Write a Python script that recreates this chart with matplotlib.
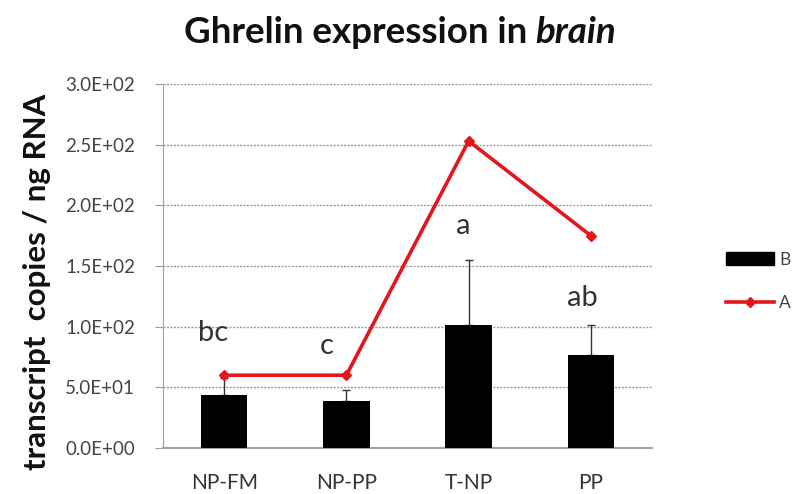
import matplotlib
matplotlib.use("Agg")
import matplotlib.pyplot as plt
from matplotlib.lines import Line2D
from matplotlib.patches import Patch
from matplotlib.ticker import FuncFormatter, MultipleLocator
import numpy as np

categories = ["NP-FM", "NP-PP", "T-NP", "PP"]
series_b = [44, 39, 101, 77]          # bars
series_b_err = [14, 9, 54, 24]        # upper error
series_a = [60, 60, 253, 175]         # red line
letters = ["bc", "c", "a", "ab"]
letter_y = [95, 84, 183, 124]
letter_dx = [-0.09, -0.16, -0.04, -0.07]

plt.rcParams["font.family"] = ["Lato", "DejaVu Sans"]

fig = plt.figure(figsize=(7.98, 4.94), dpi=100)
ax = fig.add_axes([0.2043, 0.0931, 0.6127, 0.7369])

x = np.arange(len(categories))
ax.bar(x, series_b, width=0.38, color="black", zorder=3)
ax.errorbar(x, series_b, yerr=[np.zeros(len(x)), series_b_err], fmt="none",
            ecolor="#333333", elinewidth=1.0, capsize=3, capthick=1.0, zorder=2)
ax.plot(x, series_a, color="#e3161b", lw=2.6, marker="D", ms=5, zorder=4)

for xi, dx, ly, t in zip(x, letter_dx, letter_y, letters):
    ax.text(xi + dx, ly, t, ha="center", va="center", fontsize=21, color="#333333")

ax.set_xlim(-0.5, len(categories) - 0.5)
ax.set_ylim(0, 300)
ax.yaxis.set_major_locator(MultipleLocator(50))
ax.yaxis.set_major_formatter(FuncFormatter(lambda v, p: f"{v:.1E}"))
ax.set_xticks(x)
ax.set_xticklabels(categories)
ax.tick_params(axis="y", colors="#9a9a9a", labelcolor="#444444", labelsize=13.5,
               length=6, direction="out", pad=14)
ax.tick_params(axis="x", length=0, labelcolor="#333333", labelsize=15, pad=18)

for s in ["top", "right"]:
    ax.spines[s].set_visible(False)
ax.spines["left"].set_color("#a0a0a0")
ax.spines["bottom"].set_color("#a0a0a0")
ax.spines["bottom"].set_linewidth(1.5)
ax.grid(axis="y", color="#9a9a9a", linestyle=(0, (1.5, 1.0)), lw=1.0, zorder=0)
ax.set_axisbelow(True)

fig.text(37 / 798, 1 - 282 / 494, "transcript  copies / ng RNA", fontsize=22.5,
         fontweight="bold", color="#111111", rotation=90, ha="center", va="center")

handles = [Patch(facecolor="black", edgecolor="black"),
           Line2D([], [], color="#e3161b", lw=2.6, marker="D", ms=5)]
fig.legend(handles, ["B", "A"], loc="center left", bbox_to_anchor=(726 / 798, 0.43),
           frameon=False, fontsize=12.5, handlelength=2.75, handleheight=0.75,
           labelspacing=1.6, handletextpad=0.3, borderpad=0, borderaxespad=0,
           labelcolor="#444444")

# Title with an italic final word
fig.canvas.draw()
r = fig.canvas.get_renderer()
ty = 1 - 43 / 494
t1 = fig.text(0, ty, "Ghrelin expression in ", fontsize=26.5, fontweight="bold",
              ha="left", va="baseline", color="#111111")
t2 = fig.text(0, ty, "brain", fontsize=26.5, fontweight="bold", style="italic",
              ha="left", va="baseline", color="#111111")
w1 = t1.get_window_extent(r).width
w2 = t2.get_window_extent(r).width
W = fig.bbox.width
start = 400 - (w1 + w2) / 2
t1.set_x(start / W)
t2.set_x((start + w1) / W)

fig.savefig("out.png", dpi=100)
